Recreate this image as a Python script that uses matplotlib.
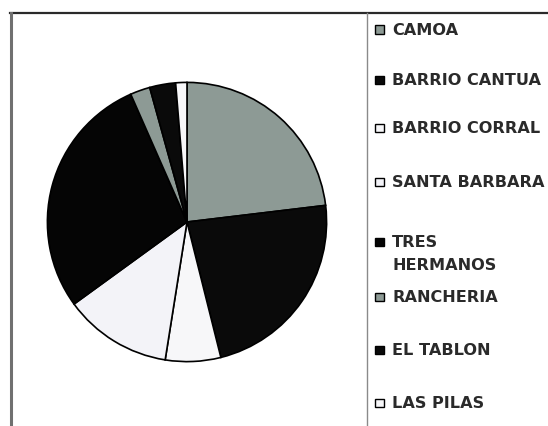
import matplotlib.pyplot as plt
from matplotlib.patches import Rectangle
from matplotlib.lines import Line2D

# share of each locality (percent)
labels = ['CAMOA', 'BARRIO CANTUA', 'BARRIO CORRAL', 'SANTA BARBARA',
          'TRES\nHERMANOS', 'RANCHERIA', 'EL TABLON', 'LAS PILAS']
values = [23.1, 23.0, 6.4, 12.5, 28.4, 2.3, 3.0, 1.3]
colors = ['#8d9a95', '#0a0a0a', '#f7f7f9', '#f3f3f8',
          '#050505', '#8d9a95', '#0a0a0a', '#f7f7f9']

W, H = 548, 426
fig = plt.figure(figsize=(W / 100, H / 100), dpi=100)
fig.patch.set_facecolor('white')

# pie, centre (187, 222) px, radius 141 px
cx, cy, r = 187, 222, 141
ax = fig.add_axes([(cx - r) / W, (H - cy - r) / H, 2 * r / W, 2 * r / H])
ax.pie(values, colors=colors, startangle=90, counterclock=False,
       wedgeprops=dict(edgecolor='black', linewidth=1.2))
ax.set_xlim(-1.01, 1.01)
ax.set_ylim(-1.01, 1.01)
ax.axis('off')

def px(x, y):
    return x / W, 1 - y / H

# frame lines
fig.add_artist(Line2D([10 / W, 1], [1 - 13 / H] * 2, color='#2a2a2a', lw=1.6))
fig.add_artist(Line2D([10.5 / W] * 2, [0, 1 - 13 / H], color='#707070', lw=2.2))
fig.add_artist(Line2D([367 / W] * 2, [0, 1 - 13 / H], color='#8a8a8a', lw=1.0))

# legend drawn by hand
baselines = [35, 85, 133, 187, 247, 302, 355, 408]
for lab, col, yb in zip(labels, colors, baselines):
    x0, y0 = px(375, yb - 1)
    fig.add_artist(Rectangle((x0, y0), 8.5 / W, 8.5 / H,
                             facecolor=col, edgecolor='black', lw=1.0,
                             transform=fig.transFigure))
    for i, line in enumerate(lab.split('\n')):
        tx, ty = px(392, yb + i * 23)
        fig.text(tx, ty, line, fontsize=11.6, family='DejaVu Sans',
                 weight='bold', va='baseline', ha='left', color='#2a2a2a')

fig.savefig('out.png', dpi=100)
